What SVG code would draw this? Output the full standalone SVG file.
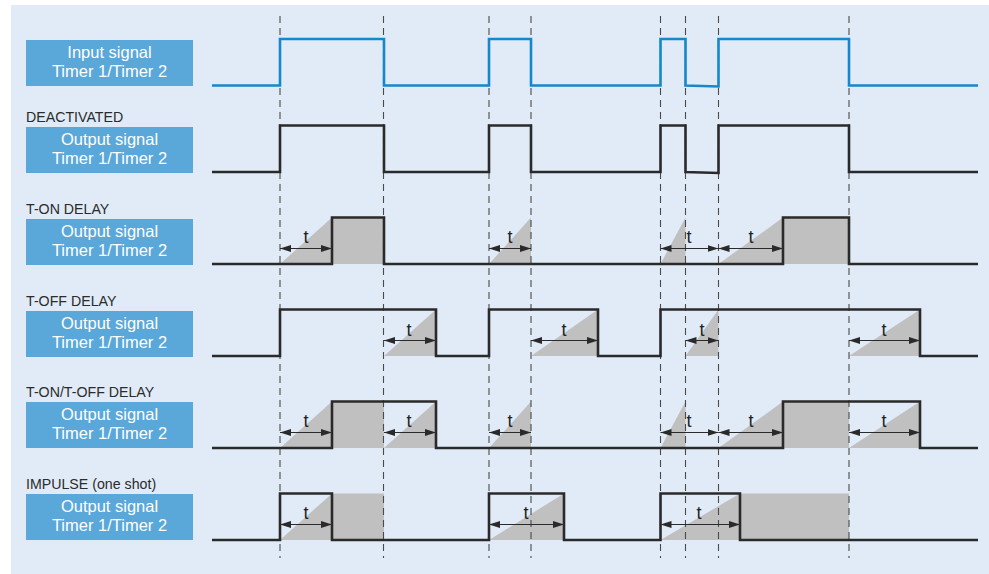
<svg xmlns="http://www.w3.org/2000/svg" width="989" height="574" viewBox="0 0 989 574">
<style>
.bg{fill:#e1ebf7}
.box{fill:#5aa7d9}
.bt{font-family:"Liberation Sans",Arial,sans-serif;font-size:16.5px;fill:#ffffff;text-anchor:middle}
.sec{font-family:"Liberation Sans",Arial,sans-serif;font-size:14.2px;fill:#2b2b2b}
.t{font-family:"Liberation Sans",Arial,sans-serif;font-size:18px;fill:#222222;text-anchor:middle}
.sh{fill:#c0c0c0}
.dash{stroke:#4a4a4a;stroke-width:1.1;stroke-dasharray:7 5;fill:none}
.sig{fill:none;stroke:#2a2a2a;stroke-width:2.6;stroke-linejoin:miter}
.blue{stroke:#1587cb}
.arr{stroke:#2a2a2a;stroke-width:1.1;marker-start:url(#ah);marker-end:url(#ah)}
</style>
<defs>
<marker id="ah" markerUnits="userSpaceOnUse" markerWidth="12" markerHeight="8" refX="11" refY="3.5" orient="auto-start-reverse">
<path d="M0,0 L11,3.5 L0,7 z" fill="#2a2a2a"/>
</marker>
</defs>
<rect x="0" y="0" width="989" height="574" fill="#ffffff"/>
<rect class="bg" x="11" y="5" width="978" height="569"/>

<g id="label-input">
<rect class="box" x="26" y="40" width="167" height="46"/>
<text class="bt" x="109.5" y="58.3">Input signal</text>
<text class="bt" x="109.5" y="77.3">Timer 1/Timer 2</text>
</g>
<g id="label-deactivated">
<text class="sec" x="26" y="122">DEACTIVATED</text>
<rect class="box" x="26" y="127" width="167" height="46"/>
<text class="bt" x="109.5" y="145.3">Output signal</text>
<text class="bt" x="109.5" y="164.3">Timer 1/Timer 2</text>
</g>
<g id="label-ton">
<text class="sec" x="26" y="214">T-ON DELAY</text>
<rect class="box" x="26" y="219" width="167" height="46"/>
<text class="bt" x="109.5" y="237.3">Output signal</text>
<text class="bt" x="109.5" y="256.3">Timer 1/Timer 2</text>
</g>
<g id="label-toff">
<text class="sec" x="26" y="306">T-OFF DELAY</text>
<rect class="box" x="26" y="311" width="167" height="46"/>
<text class="bt" x="109.5" y="329.3">Output signal</text>
<text class="bt" x="109.5" y="348.3">Timer 1/Timer 2</text>
</g>
<g id="label-tonoff">
<text class="sec" x="26" y="397">T-ON/T-OFF DELAY</text>
<rect class="box" x="26" y="402" width="167" height="46"/>
<text class="bt" x="109.5" y="420.3">Output signal</text>
<text class="bt" x="109.5" y="439.3">Timer 1/Timer 2</text>
</g>
<g id="label-impulse">
<text class="sec" x="26" y="489">IMPULSE (one shot)</text>
<rect class="box" x="26" y="494" width="167" height="46"/>
<text class="bt" x="109.5" y="512.3">Output signal</text>
<text class="bt" x="109.5" y="531.3">Timer 1/Timer 2</text>
</g>

<g id="shading">
<polygon class="sh" points="280,264 332,217.5 332,264"/>
<rect class="sh" x="332" y="217.5" width="52" height="46.5"/>
<polygon class="sh" points="489,264 531,217.5 531,264"/>
<polygon class="sh" points="660.5,264 685.5,217.5 685.5,264"/>
<polygon class="sh" points="718.5,264 783,217.5 783,264"/>
<rect class="sh" x="783" y="217.5" width="66" height="46.5"/>

<polygon class="sh" points="384,356 436,309.5 436,356"/>
<polygon class="sh" points="531,356 598,309.5 598,356"/>
<polygon class="sh" points="685.5,356 718.5,309.5 718.5,356"/>
<polygon class="sh" points="849,356 920,309.5 920,356"/>

<polygon class="sh" points="280,448 332,401.5 332,448"/>
<rect class="sh" x="332" y="401.5" width="52" height="46.5"/>
<polygon class="sh" points="384,448 436,401.5 436,448"/>
<polygon class="sh" points="489,448 531,401.5 531,448"/>
<polygon class="sh" points="660.5,448 685.5,401.5 685.5,448"/>
<polygon class="sh" points="718.5,448 783,401.5 783,448"/>
<rect class="sh" x="783" y="401.5" width="66" height="46.5"/>
<polygon class="sh" points="849,448 920,401.5 920,448"/>

<polygon class="sh" points="280,540 332,493.5 332,540"/>
<rect class="sh" x="332" y="493.5" width="52" height="46.5"/>
<polygon class="sh" points="489,540 564,493.5 564,540"/>
<polygon class="sh" points="660.5,540 740,493.5 740,540"/>
<rect class="sh" x="740" y="493.5" width="109" height="46.5"/>
</g>

<g id="guides">
<line class="dash" x1="280" y1="16" x2="280" y2="558"/>
<line class="dash" x1="383.5" y1="16" x2="383.5" y2="558"/>
<line class="dash" x1="489" y1="16" x2="489" y2="558"/>
<line class="dash" x1="531" y1="16" x2="531" y2="558"/>
<line class="dash" x1="660.5" y1="16" x2="660.5" y2="558"/>
<line class="dash" x1="685.5" y1="16" x2="685.5" y2="558"/>
<line class="dash" x1="718.5" y1="16" x2="718.5" y2="558"/>
<line class="dash" x1="849" y1="16" x2="849" y2="558"/>
</g>

<g id="signals">
<path class="sig blue" d="M212,85.5 H280 V39 H384 V85.5 H489 V39 H531 V85.5 H660.5 V39 H685.5 V85.5 L718.5,86.5 V39 H849 V85.5 H978"/>
<path class="sig" d="M212,172 H280 V125.5 H384 V172 H489 V125.5 H531 V172 H660.5 V125.5 H685.5 V172 L718.5,173 V125.5 H849 V172 H978"/>
<path class="sig" d="M212,264 H332 V217.5 H384 V264 H783 V217.5 H849 V264 H978"/>
<path class="sig" d="M212,356 H280 V309.5 H436 V356 H489 V309.5 H598 V356 H660.5 V309.5 H920 V356 H978"/>
<path class="sig" d="M212,448 H332 V401.5 H436 V448 H783 V401.5 H920 V448 H978"/>
<path class="sig" d="M212,540 H280 V493.5 H332 V540 H489 V493.5 H564 V540 H660.5 V493.5 H740 V540 H978"/>
</g>

<g id="timers">
<line class="arr" x1="280" y1="248.5" x2="332" y2="248.5"/>
<line class="arr" x1="489" y1="248.5" x2="531" y2="248.5"/>
<line class="arr" x1="660.5" y1="248.5" x2="718.5" y2="248.5"/>
<line class="arr" x1="718.5" y1="248.5" x2="783" y2="248.5"/>
<text class="t" x="306" y="243">t</text>
<text class="t" x="510" y="243">t</text>
<text class="t" x="689" y="243">t</text>
<text class="t" x="751" y="243">t</text>

<line class="arr" x1="384" y1="340.5" x2="436" y2="340.5"/>
<line class="arr" x1="531" y1="340.5" x2="598" y2="340.5"/>
<line class="arr" x1="685.5" y1="340.5" x2="718.5" y2="340.5"/>
<line class="arr" x1="849" y1="340.5" x2="920" y2="340.5"/>
<text class="t" x="409" y="335.5">t</text>
<text class="t" x="564" y="335.5">t</text>
<text class="t" x="702" y="335.5">t</text>
<text class="t" x="884" y="335.5">t</text>

<line class="arr" x1="280" y1="432.5" x2="332" y2="432.5"/>
<line class="arr" x1="384" y1="432.5" x2="436" y2="432.5"/>
<line class="arr" x1="489" y1="432.5" x2="531" y2="432.5"/>
<line class="arr" x1="660.5" y1="432.5" x2="718.5" y2="432.5"/>
<line class="arr" x1="718.5" y1="432.5" x2="783" y2="432.5"/>
<line class="arr" x1="849" y1="432.5" x2="920" y2="432.5"/>
<text class="t" x="306" y="427">t</text>
<text class="t" x="409" y="427">t</text>
<text class="t" x="510" y="427">t</text>
<text class="t" x="689" y="427">t</text>
<text class="t" x="751" y="427">t</text>
<text class="t" x="884" y="427">t</text>

<line class="arr" x1="280" y1="524.5" x2="332" y2="524.5"/>
<line class="arr" x1="489" y1="524.5" x2="564" y2="524.5"/>
<line class="arr" x1="660.5" y1="524.5" x2="740" y2="524.5"/>
<text class="t" x="306" y="519">t</text>
<text class="t" x="526" y="519">t</text>
<text class="t" x="699" y="519">t</text>
</g>
</svg>
